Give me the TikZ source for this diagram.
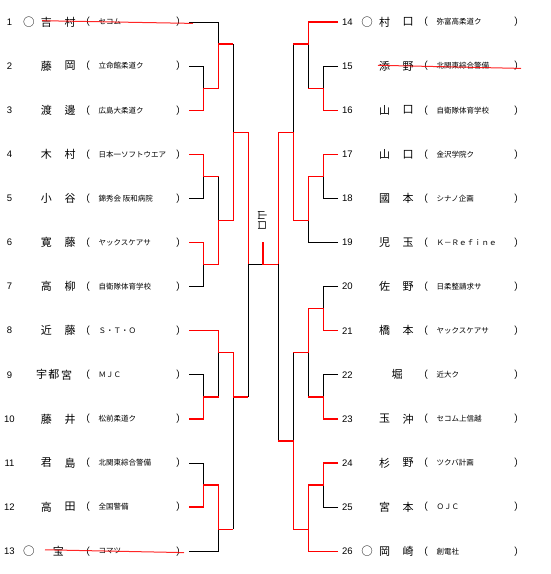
\documentclass[tikz,border=0pt]{standalone}
\usepackage{fontspec}
\setmainfont{Noto Sans CJK JP}
\newfontfamily\numfont{Liberation Sans}
\usetikzlibrary{calc}
\newcommand\player[5]{% id, xoff, y, number, org
  \node[numsty] (num#1) at (#2+9.5,#3) {#4};
  \node[parsty] (po#1) at (#2+85,#3) {（};
  \node[orgsty] (org#1) at (#2+98.5,#3) {#5};
  \node[parsty] (pc#1) at (#2+181,#3) {）};
}
\newcommand\twoname[5]{% id, xoff, y, char1, char2
  \node[namesty] (na#1) at (#2+46.5,#3) {#4};
  \node[namesty] (nb#1) at (#2+70,#3) {#5};
}
\begin{document}
\begin{tikzpicture}[x=1pt,y=-1pt,
  lose/.style={draw=black,line width=0.8pt},
  win/.style={draw=red,line width=1.3pt},
  strike/.style={draw=red,line width=1pt,opacity=0.85},
  numsty/.style={inner sep=0pt,font=\numfont\fontsize{9.5}{10}\selectfont},
  namesty/.style={inner sep=0pt,font=\fontsize{11}{12}\selectfont},
  parsty/.style={inner sep=0pt,font=\fontsize{10}{12}\selectfont},
  orgsty/.style={anchor=west,inner sep=0pt,font=\fontsize{7.5}{9}\selectfont},
  circsty/.style={inner sep=0pt,font=\fontsize{11.5}{12}\selectfont},
  champ/.style={inner sep=0pt,rotate=-90,font=\fontsize{10}{12}\selectfont},
]
\useasboundingbox (0,0) rectangle (550,574);

% ---------- left entries ----------
\player{1}{0}{22}{1}{セコム}
\node[circsty] (c1) at (29,22) {○};
\twoname{1}{0}{22}{吉}{村}
\player{2}{0}{66.1}{2}{立命館柔道ク}
\twoname{2}{0}{66.1}{藤}{岡}
\player{3}{0}{110.2}{3}{広島大柔道ク}
\twoname{3}{0}{110.2}{渡}{邊}
\player{4}{0}{154.3}{4}{日本一ソフトウエア}
\twoname{4}{0}{154.3}{木}{村}
\player{5}{0}{198.4}{5}{錦秀会 阪和病院}
\twoname{5}{0}{198.4}{小}{谷}
\player{6}{0}{242.5}{6}{ヤックスケアサ}
\twoname{6}{0}{242.5}{寛}{藤}
\player{7}{0}{286.6}{7}{自衛隊体育学校}
\twoname{7}{0}{286.6}{高}{柳}
\player{8}{0}{330.7}{8}{Ｓ・Ｔ・Ｏ}
\twoname{8}{0}{330.7}{近}{藤}
\player{9}{0}{374.8}{9}{ＭＪＣ}
\node[namesty] (na9) at (41.5,374.8) {宇};
\node[namesty] (nb9) at (54,374.8) {都};
\node[namesty] (nc9) at (66.5,374.8) {宮};
\player{10}{0}{418.9}{10}{松前柔道ク}
\twoname{10}{0}{418.9}{藤}{井}
\player{11}{0}{463}{11}{北関東綜合警備}
\twoname{11}{0}{463}{君}{島}
\player{12}{0}{507.1}{12}{全国警備}
\twoname{12}{0}{507.1}{高}{田}
\player{13}{0}{551.2}{13}{コマツ}
\node[circsty] (c13) at (29,551.2) {○};
\node[namesty] (na13) at (58.3,551.2) {宝};

% ---------- right entries ----------
\player{14}{338}{22}{14}{弥富高柔道ク}
\node[circsty] (c14) at (367,22) {○};
\twoname{14}{338}{22}{村}{口}
\player{15}{338}{66.1}{15}{北関東綜合警備}
\twoname{15}{338}{66.1}{添}{野}
\player{16}{338}{110.2}{16}{自衛隊体育学校}
\twoname{16}{338}{110.2}{山}{口}
\player{17}{338}{154.3}{17}{金沢学院ク}
\twoname{17}{338}{154.3}{山}{口}
\player{18}{338}{198.4}{18}{シナノ企画}
\twoname{18}{338}{198.4}{國}{本}
\player{19}{338}{242.5}{19}{Ｋ－Ｒｅｆｉｎｅ}
\twoname{19}{338}{242.5}{児}{玉}
\player{20}{338}{286.6}{20}{日柔整請求サ}
\twoname{20}{338}{286.6}{佐}{野}
\player{21}{338}{330.7}{21}{ヤックスケアサ}
\twoname{21}{338}{330.7}{橋}{本}
\player{22}{338}{374.8}{22}{近大ク}
\node[namesty] (na22) at (397,374.8) {堀};
\player{23}{338}{418.9}{23}{セコム上信越}
\twoname{23}{338}{418.9}{玉}{沖}
\player{24}{338}{463}{24}{ツクバ計画}
\twoname{24}{338}{463}{杉}{野}
\player{25}{338}{507.1}{25}{ＯＪＣ}
\twoname{25}{338}{507.1}{宮}{本}
\player{26}{338}{551.2}{26}{創電社}
\node[circsty] (c26) at (367,551.2) {○};
\twoname{26}{338}{551.2}{岡}{崎}

% champion label
\node[champ] (champ) at (262.5,220) {山口};

% ---------- bracket coordinates ----------
\foreach \i/\y in {1/22,2/66.1,3/110.2,4/154.3,5/198.4,6/242.5,7/286.6,8/330.7,9/374.8,10/418.9,11/463,12/507.1,13/551.2}{
  \coordinate (L\i) at (189,\y);
}
\foreach \i/\y in {14/22,15/66.1,16/110.2,17/154.3,18/198.4,19/242.5,20/286.6,21/330.7,22/374.8,23/418.9,24/463,25/507.1,26/551.2}{
  \coordinate (R\i) at (338,\y);
}
\coordinate (ja) at (203.5,88.15);
\coordinate (jb) at (218.7,44);
\coordinate (jc) at (203.5,176.35);
\coordinate (jd) at (203.5,264.55);
\coordinate (je) at (218.7,220.45);
\coordinate (jf) at (233.3,132.2);
\coordinate (jg) at (203.5,396.85);
\coordinate (jh) at (218.7,352.75);
\coordinate (ji) at (203.5,485.05);
\coordinate (jj) at (218.7,529.15);
\coordinate (jk) at (233.3,396.85);
\coordinate (jl) at (248.3,264.3);
\coordinate (jm) at (263,264.3);
\coordinate (jt) at (263,242.3);
\coordinate (ka) at (323.3,88.15);
\coordinate (kb) at (308.3,44);
\coordinate (kc) at (323.3,176.35);
\coordinate (kd) at (308.3,220.45);
\coordinate (kf) at (293.3,132.2);
\coordinate (kg) at (323.3,308.65);
\coordinate (kh) at (323.3,396.85);
\coordinate (kk) at (308.3,352.75);
\coordinate (ki) at (323.3,485.05);
\coordinate (kj) at (308.3,529.15);
\coordinate (kl) at (293.3,440.95);
\coordinate (km) at (278.3,264.3);

% ---------- left bracket ----------
\draw[lose] (L1) -| (jb);
\draw[lose] (L2) -| (ja);
\draw[lose] (jb -| jf) -- (jf);
\draw[lose] (L5) -| (jc);
\draw[lose] (jc -| je) -- (je);
\draw[lose] (L7) -| (jd);
\draw[lose] (jk -| jl) -- (jl);
\draw[lose] (L9) -| (jg);
\draw[lose] (jg -| jh) -- (jh);
\draw[lose] (L11) -| (ji);
\draw[lose] (L13) -| (jj);
\draw[lose] (jj -| jk) -- (jk);
\draw[lose] (jl) -- (jm);

% ---------- right bracket ----------
\draw[lose] (kb -| kf) -- (kf);
\draw[lose] (R15) -| (ka);
\draw[lose] (ka -| kb) -- (kb);
\draw[lose] (R18) -| (kc);
\draw[lose] (R19) -| (kd);
\draw[lose] (km) -- (km |- kl);
\draw[lose] (R20) -| (kg);
\draw[lose] (kk -| kl) -- (kl);
\draw[lose] (R22) -| (kh);
\draw[lose] (kh -| kk) -- (kk);
\draw[lose] (R25) -| (ki);

% ---------- winners ----------
\draw[win] (L3) -| (ja) -| (jb) -- (jb -| jf);
\draw[win] (L4) -| (jc) -- (jc -| je);
\draw[win] (L6) -| (jd) -| (je) -| (jf) -| (jl);
\draw[win] (L8) -| (jh) -| (jk) -- (jk -| jl);
\draw[win] (L10) -| (jg) -- (jg -| jh);
\draw[win] (L12) -| (ji) -| (jj) -- (jj -| jk);
\draw[win] (jt) -- (jm) -- (km);
\draw[win] (R14) -| (kb) -- (kb -| kf);
\draw[win] (R16) -| (ka) -- (ka -| kb);
\draw[win] (R17) -| (kc) -| (kd) -| (kf) -| (km);
\draw[win] (R21) -| (kg) -| (kk) -- (kk -| kl);
\draw[win] (R23) -| (kh) -- (kh -| kk);
\draw[win] (R24) -| (ki) -| (kj);
\draw[win] (R26) -| (kj) -| (kl) -- (km |- kl);

% ---------- strike-through marks ----------
\coordinate (s1a) at (42,20.7);
\coordinate (s1b) at (193,23.4);
\coordinate (s13a) at (45,549.8);
\coordinate (s13b) at (184,552.6);
\coordinate (s15a) at (378,65.3);
\coordinate (s15b) at (521,68.4);
\draw[strike] (s1a) -- (s1b);
\draw[strike] (s13a) -- (s13b);
\draw[strike] (s15a) -- (s15b);
\end{tikzpicture}
\end{document}
